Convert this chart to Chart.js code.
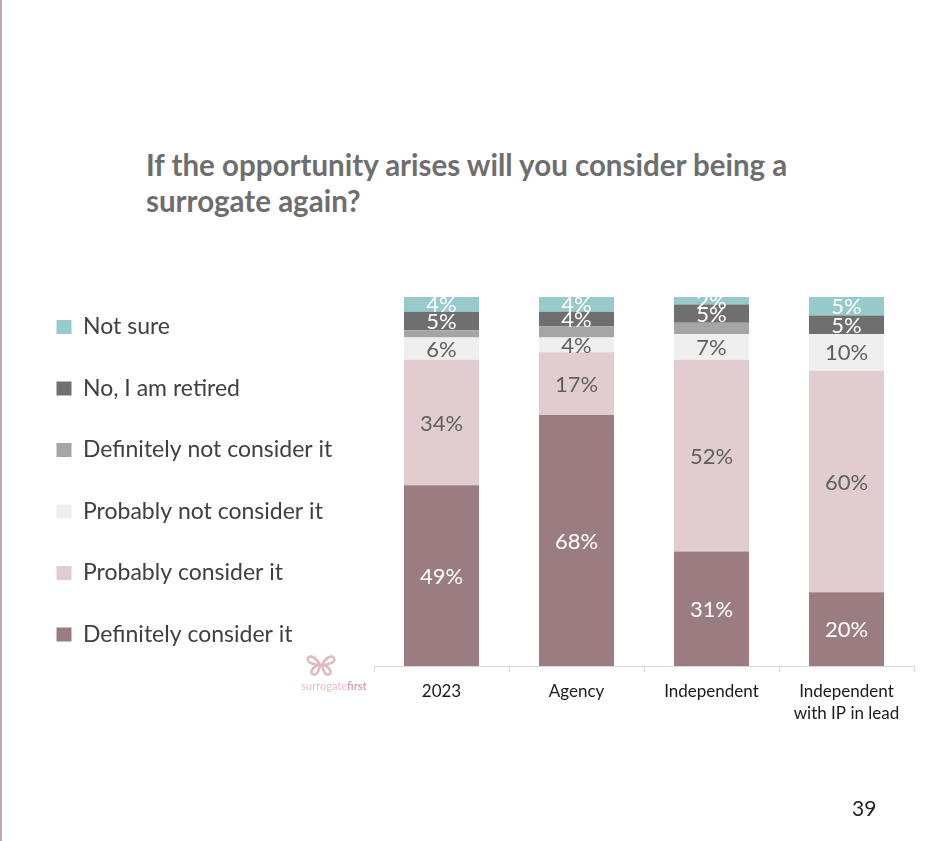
<!DOCTYPE html>
<html>
<head>
<meta charset="utf-8">
<script src="https://cdn.jsdelivr.net/npm/chart.js@4/dist/chart.umd.min.js"></script>
<style>
  body { margin: 0; background: #fff; }
  #wrap { position: relative; width: 948px; height: 841px; overflow: hidden; border-left: 2px solid #bfa9ab; box-sizing: border-box; }
  #title { position: absolute; left: 144px; top: 147px; font-family: Lato, sans-serif; font-weight: bold; font-size: 29.5px; line-height: 36px; color: #6e6e6e; }
  #page { position: absolute; left: 850px; top: 795px; font-family: Lato, sans-serif; font-size: 21px; color: #222; }
  #logo { position: absolute; left: 294px; top: 652px; width: 76px; font-family: Lato, sans-serif; font-size: 11px; color: #e2bfc4; }
  #logo svg { display: block; margin-left: 9px; }
  #logo div { text-align: center; margin-top: 1px; }
  #logo b { color: #d6a3ab; }
  #chartBox { position: absolute; left: -2px; top: 0; width: 948px; height: 841px; }
</style>
</head>
<body>
<div id="wrap">
  <div id="title">If the opportunity arises will you consider being a<br>surrogate again?</div>
  <div id="chartBox"><canvas id="myChart"></canvas></div>
  <div id="logo">
    <svg width="32" height="26" viewBox="0 0 34 26">
      <path d="M16 13 C10 2, 2 2, 3 8 C4 12, 10 12, 14 13 C8 15, 4 22, 9 23 C13 24, 15 18, 16 13 Z" fill="none" stroke="#e0bcc1" stroke-width="2.8"/>
      <path d="M18 13 C24 2, 32 2, 31 8 C30 12, 24 12, 20 13 C26 15, 30 22, 25 23 C21 24, 19 18, 18 13 Z" fill="none" stroke="#e0bcc1" stroke-width="2.8"/>
    </svg>
    <div>surrogate<b>first</b></div>
  </div>
  <div id="page">39</div>
</div>
<script>
var categories = ['2023', 'Agency', 'Independent', ['Independent', 'with IP in lead']];
var seriesNames = ['Definitely consider it', 'Probably consider it', 'Probably not consider it',
                   'Definitely not consider it', 'No, I am retired', 'Not sure'];
var definitelyConsider = [49, 68, 31, 20];
var probablyConsider = [34, 17, 52, 60];
var probablyNot = [6, 4, 7, 10];
var definitelyNot = [2, 3, 3, 0];
var retired = [5, 4, 5, 5];
var notSure = [4, 4, 2, 5];

var seriesValues = [definitelyConsider, probablyConsider, probablyNot, definitelyNot, retired, notSure];
var seriesColors = ['#9b7d81', '#e1cdcf', '#f0efef', '#a5a5a5', '#6f6f6f', '#96cacb'];
var labelColors = ['#ffffff', '#5f5f5f', '#5f5f5f', null, '#ffffff', '#ffffff'];

var FONT = 'Lato, sans-serif';

// draws the % value in the middle of each segment
const segmentLabels = {
    id: 'segmentLabels',
    afterDatasetsDraw(chart) {
        const ctx = chart.ctx;
        ctx.save();
        ctx.font = '22px ' + FONT;
        ctx.textAlign = 'center';
        ctx.textBaseline = 'middle';
        chart.data.datasets.forEach((ds, d) => {
            if (!labelColors[d]) return;
            const meta = chart.getDatasetMeta(d);
            meta.data.forEach((bar, i) => {
                const v = ds.data[i];
                if (!v) return;
                ctx.fillStyle = labelColors[d];
                ctx.fillText(v + '%', bar.x, (bar.y + bar.base) / 2 + 1);
            });
        });
        ctx.restore();
    }
};

var datasets = [];
for (let i = 0; i < seriesNames.length; i++) {
    datasets.push({
        label: seriesNames[i],
        data: seriesValues[i],
        backgroundColor: seriesColors[i],
        borderWidth: 0,
        categoryPercentage: 1,
        barPercentage: 0.556
    });
}

var padLeft = 18;
var ctx = document.getElementById('myChart').getContext('2d');
var myChart = new Chart(ctx, {
    type: 'bar',
    data: { labels: categories, datasets: datasets },
    plugins: [segmentLabels],
    options: {
        responsive: true,
        maintainAspectRatio: false,
        animation: false,
        layout: { padding: { left: padLeft, right: 34, top: 277, bottom: 110 } },
        plugins: {
            tooltip: { enabled: false },
            // empty spacer so the plot starts below the first legend row
            title: { display: true, text: '', fullSize: false, padding: 0, font: { size: 20, lineHeight: 1 } },
            legend: {
                position: 'left',
                align: 'start',
                reverse: true,
                maxWidth: 420,
                labels: {
                    boxWidth: 15,
                    boxHeight: 14,
                    padding: 38.5,
                    color: '#404040',
                    font: { family: FONT, size: 23 }
                }
            }
        },
        scales: {
            x: {
                stacked: true,
                grid: { display: true, drawOnChartArea: false, drawTicks: true, tickLength: 6, color: '#d9d9d9' },
                border: { display: true, color: '#d9d9d9' },
                ticks: {
                    color: '#1a1a1a',
                    font: { family: FONT, size: 17, lineHeight: 1.27 },
                    padding: 9,
                    maxRotation: 0,
                    autoSkip: false
                },
                afterFit: function (scale) { scale.height = 65; }
            },
            y: {
                stacked: true,
                min: 0,
                max: 100,
                grid: { display: false },
                border: { display: false },
                ticks: { display: false },
                afterFit: function (scale) {
                    scale.width = Math.max(0, 374 - padLeft - scale.chart.legend.width);
                }
            }
        }
    }
});
</script>
</body>
</html>
